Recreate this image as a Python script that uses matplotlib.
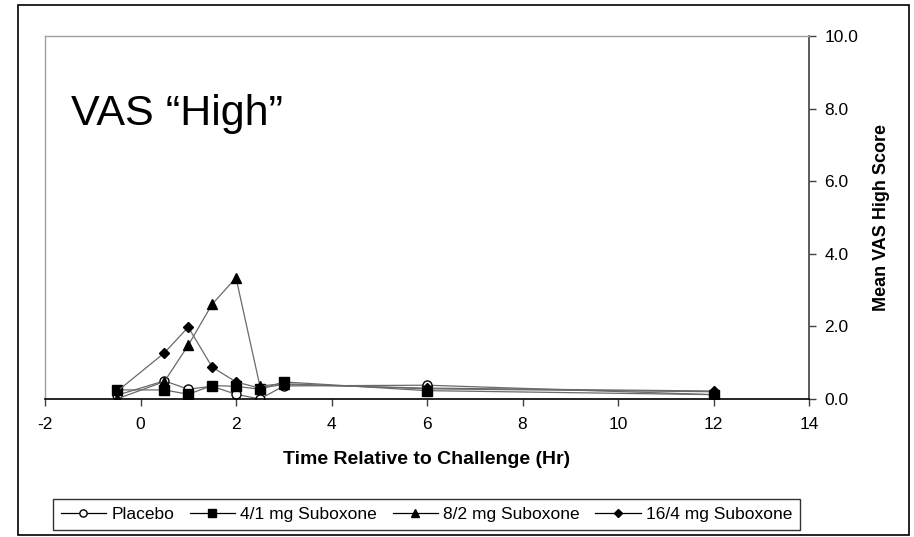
import matplotlib.pyplot as plt
from matplotlib.patches import Rectangle

plt.rcParams['font.family'] = ['Liberation Sans', 'DejaVu Sans']

# time points (hr relative to challenge)
times = [-0.5, 0.5, 1.0, 1.5, 2.0, 2.5, 3.0, 6.0, 12.0]

# mean VAS "High" scores
placebo = [0.10, 0.50, 0.27, 0.35, 0.13, 0.00, 0.36, 0.38, 0.12]
sub_4_1 = [0.25, 0.25, 0.13, 0.37, 0.35, 0.27, 0.47, 0.23, 0.12]
sub_8_2 = [0.00, 0.48, 1.48, 2.61, 3.34, 0.36, 0.42, 0.28, 0.20]
sub_16_4 = [0.20, 1.27, 1.98, 0.88, 0.47, 0.30, 0.40, 0.30, 0.22]

labels = ['Placebo', '4/1 mg Suboxone', '8/2 mg Suboxone', '16/4 mg Suboxone']
xticks = [-2, 0, 2, 4, 6, 8, 10, 12, 14]
yticks = [0, 2, 4, 6, 8, 10]

fig = plt.figure(figsize=(9.14, 5.37), dpi=100)
ax = fig.add_axes([45 / 914, 1 - 399 / 537, 764 / 914, 363 / 537])

line_col = '#6a6a6a'
ax.plot(times, placebo, color=line_col, lw=0.9, marker='o', ms=6.5,
        mfc='white', mec='black', mew=1.0, label=labels[0])
ax.plot(times, sub_4_1, color=line_col, lw=0.9, marker='s', ms=6.5,
        mfc='black', mec='black', label=labels[1])
ax.plot(times, sub_8_2, color=line_col, lw=0.9, marker='^', ms=7,
        mfc='black', mec='black', label=labels[2])
ax.plot(times, sub_16_4, color=line_col, lw=0.9, marker='D', ms=5.5,
        mfc='black', mec='black', label=labels[3])

ax.set_xlim(-2, 14)
ax.set_ylim(0, 10)
ax.set_xticks(xticks)
ax.set_xticklabels([str(t) for t in xticks])
ax.set_yticks(yticks)
ax.set_yticklabels(['%.1f' % v for v in yticks])

ax.yaxis.tick_right()
ax.yaxis.set_label_position('right')
ax.tick_params(axis='both', direction='out', length=5, width=1, labelsize=12.5,
               color='#404040')
ax.tick_params(axis='x', pad=8)
ax.tick_params(axis='y', pad=6)

for side in ['left', 'top']:
    ax.spines[side].set_color('#a0a0a0')
    ax.spines[side].set_linewidth(1)
ax.spines['right'].set_color('#404040')
ax.spines['bottom'].set_color('black')
ax.spines['right'].set_linewidth(1.2)
ax.spines['bottom'].set_linewidth(1.2)

ax.set_xlabel('Time Relative to Challenge (Hr)', fontsize=14, fontweight='bold',
              labelpad=14)
ax.set_ylabel('Mean VAS High Score', fontsize=13, fontweight='bold', labelpad=11)

ax.text(0.034, 0.755, 'VAS \u201cHigh\u201d', transform=ax.transAxes, fontsize=31,
        va='baseline', ha='left')

leg = ax.legend(loc='lower left', bbox_to_anchor=(53 / 914, 7 / 537, 747 / 914, 33 / 537),
                bbox_transform=fig.transFigure, ncol=4, mode='expand', fontsize=12.5,
                frameon=True, fancybox=False, shadow=False, handlelength=2.6,
                handletextpad=0.3, columnspacing=0.8, borderaxespad=0, borderpad=0.45,
                markerscale=0.8)
leg.get_frame().set_edgecolor('black')
leg.get_frame().set_linewidth(1)
for h in leg.get_lines():
    h.set_color('black')

fig.patches.append(Rectangle((18 / 914, 2 / 537), 891 / 914, 530 / 537,
                             transform=fig.transFigure, fill=False,
                             edgecolor='black', lw=1.2))

fig.savefig('out.png', dpi=100)
